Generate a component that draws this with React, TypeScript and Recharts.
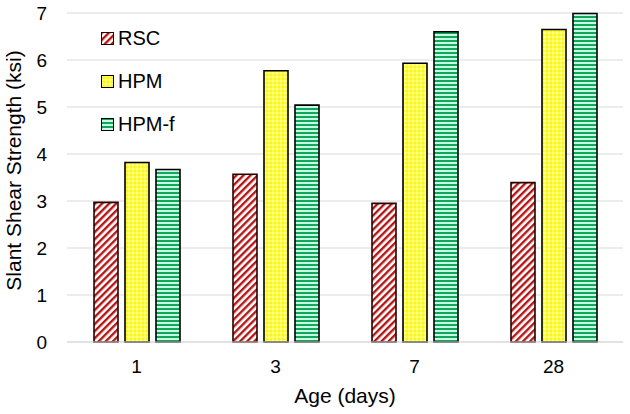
import React from "react";
import {
  BarChart,
  Bar,
  CartesianGrid,
  XAxis,
  YAxis,
} from "recharts";

// values
const ages = ["1", "3", "7", "28"];
const rsc = [2.97, 3.57, 2.95, 3.39];
const hpm = [3.82, 5.77, 5.93, 6.65];
const hpmF = [3.67, 5.04, 6.6, 6.99];
const yTicks = [0, 1, 2, 3, 4, 5, 6, 7];

const series = [
  { key: "RSC", fill: "url(#rscPat)", stroke: "#2a0000" },
  { key: "HPM", fill: "url(#hpmPat)", stroke: "#000" },
  { key: "HPM-f", fill: "url(#hpmfPat)", stroke: "#000" },
];

const data = ages.map((a, i) => ({
  age: a,
  RSC: rsc[i],
  HPM: hpm[i],
  "HPM-f": hpmF[i],
}));

const font = "'Liberation Sans', Arial, sans-serif";

function Patterns() {
  return (
    <svg width={0} height={0} style={{ position: "absolute" }}>
      <defs>
        <pattern id="rscPat" width="5" height="5" patternUnits="userSpaceOnUse" patternTransform="rotate(45)">
          <rect width="5" height="5" fill="#fff" />
          <rect width="2.4" height="5" fill="#b01818" />
        </pattern>
        <pattern id="hpmPat" width="4" height="4" patternUnits="userSpaceOnUse">
          <rect width="4" height="4" fill="#ffff33" />
          <rect x="0" y="0" width="2" height="2" fill="#ffff9a" />
          <rect x="2" y="2" width="2" height="2" fill="#f5f040" />
        </pattern>
        <pattern id="hpmfPat" width="4" height="4" patternUnits="userSpaceOnUse">
          <rect width="4" height="4" fill="#c8fbe6" />
          <rect y="0" width="4" height="2" fill="#10a858" />
        </pattern>
      </defs>
    </svg>
  );
}

const LegendBox = () => (
  <div
    style={{
      position: "absolute",
      left: 101,
      top: 17,
      fontFamily: font,
      fontSize: 20,
      color: "#000",
    }}
  >
    {series.map((s) => (
      <div key={s.key} style={{ display: "flex", alignItems: "center", height: 43 }}>
        <svg width={13} height={13} style={{ marginRight: 4 }}>
          <rect x={0.5} y={0.5} width={12} height={12} fill={s.fill} stroke={s.stroke} strokeWidth={1} />
        </svg>
        <span>{s.key}</span>
      </div>
    ))}
  </div>
);

const YTitle = (props: any) => {
  const vb = props.viewBox || { y: 13, height: 329 };
  const cy = vb.y + vb.height / 2 - 7;
  return (
    <text
      x={21}
      y={cy}
      transform={`rotate(-90, 21, ${cy})`}
      textAnchor="middle"
      fill="#000"
      fontSize={21}
      fontFamily={font}
    >
      Slant Shear Strength (ksi)
    </text>
  );
};

export default function App() {
  return (
    <div style={{ position: "absolute", left: 0, top: 0, width: 630, height: 414, background: "#fff" }}>
      <Patterns />
      <BarChart
        width={630}
        height={414}
        data={data}
        margin={{ top: 13, right: 7, bottom: 0, left: 0 }}
        barSize={24}
        barGap={7}
      >
        <CartesianGrid vertical={false} stroke="#d9d9d9" />
        <XAxis
          dataKey="age"
          height={72}
          tickLine={false}
          tickSize={0}
          tickMargin={18}
          stroke="#d9d9d9"
          tick={{ fill: "#000", fontSize: 19, fontFamily: font }}
          label={{
            value: "Age (days)",
            position: "insideBottom",
            offset: 11,
            fill: "#000",
            fontSize: 21,
            fontFamily: font,
          }}
        />
        <YAxis
          width={67}
          domain={[0, 7]}
          ticks={yTicks}
          axisLine={false}
          tickLine={false}
          tickSize={0}
          tickMargin={20}
          tick={{ fill: "#000", fontSize: 19, fontFamily: font }}
          label={<YTitle />}
        />
        {series.map((s) => (
          <Bar
            key={s.key}
            dataKey={s.key}
            fill={s.fill}
            stroke={s.stroke}
            strokeWidth={1.6}
            isAnimationActive={false}
          />
        ))}
      </BarChart>
      <LegendBox />
    </div>
  );
}
